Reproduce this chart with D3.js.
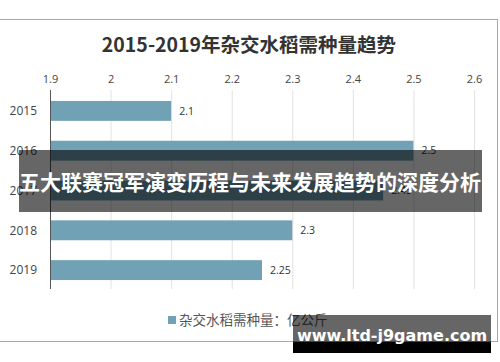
<!DOCTYPE html>
<html>
<head>
<meta charset="utf-8">
<script src="https://cdn.jsdelivr.net/npm/d3@7"></script>
<style>
  body { margin: 0; background: #fff; }
  svg { display: block; font-family: "Noto Sans CJK SC", "Open Sans", sans-serif; }
</style>
</head>
<body>
<div id="chart"></div>
<script>
const years = ["2015", "2016", "2017", "2018", "2019"]
const demand = [2.1, 2.5, 2.45, 2.3, 2.25]
const ticks = [1.9, 2, 2.1, 2.2, 2.3, 2.4, 2.5, 2.6]
const title = "2015-2019年杂交水稻需种量趋势"
const legendLabel = "杂交水稻需种量：亿公斤"
const banner = "五大联赛冠军演变历程与未来发展趋势的深度分析"
const watermark = "www.ltd-j9game.com"

const width = 500, height = 362

const svg = d3.select("#chart").append("svg")
    .attr("width", width)
    .attr("height", height)

// chart frame
svg.append("rect")
    .attr("x", -1).attr("y", 19.5)
    .attr("width", 498.5).attr("height", 322)
    .attr("fill", "#fff")
    .attr("stroke", "#a8a8a8")

svg.append("text")
    .attr("x", 249).attr("y", 52)
    .attr("text-anchor", "middle")
    .attr("font-size", 19.5)
    .attr("font-weight", "bold")
    .attr("fill", "#333")
    .text(title)

const x = d3.scaleLinear()
    .domain([1.9, 2.6])
    .range([50, 474])

const y = d3.scaleBand()
    .domain(years)
    .range([91, 290])
    .paddingInner(0.5)
    .paddingOuter(0.25)

// grid lines
svg.append("g").selectAll("line")
    .data(ticks.slice(1))
    .join("line")
    .attr("x1", d => x(d) + 0.5).attr("x2", d => x(d) + 0.5)
    .attr("y1", 90).attr("y2", 289)
    .attr("stroke", "#e2e2e2")

// top axis labels
const axis = svg.append("g")
    .attr("transform", "translate(0,83)")
    .call(d3.axisTop(x).tickValues(ticks).tickSize(0).tickPadding(0).tickFormat(d3.format("")))
axis.select(".domain").remove()
axis.selectAll("text")
    .attr("font-family", "'Open Sans', sans-serif")
    .attr("font-size", 11)
    .attr("fill", "#444")

// bars
svg.append("g").selectAll("rect")
    .data(demand)
    .join("rect")
    .attr("x", x(1.9))
    .attr("y", (d, i) => y(years[i]))
    .attr("width", d => x(d) - x(1.9))
    .attr("height", y.bandwidth())
    .attr("fill", "#71a1b5")

// value labels
svg.append("g").selectAll("text")
    .data(demand)
    .join("text")
    .attr("x", d => x(d) + 8)
    .attr("y", (d, i) => y(years[i]) + y.bandwidth() / 2)
    .attr("dy", "0.35em")
    .attr("font-family", "'Open Sans', sans-serif")
    .attr("font-size", 10.5)
    .attr("fill", "#333")
    .text(d => d)

// left axis line + year labels
svg.append("line")
    .attr("x1", 50.5).attr("x2", 50.5)
    .attr("y1", 90).attr("y2", 289)
    .attr("stroke", "#555")

svg.append("g").selectAll("text")
    .data(years)
    .join("text")
    .attr("x", 37)
    .attr("y", d => y(d) + y.bandwidth() / 2)
    .attr("dy", "0.35em")
    .attr("text-anchor", "end")
    .attr("font-family", "'Open Sans', sans-serif")
    .attr("font-size", 12)
    .attr("fill", "#444")
    .text(d => d)

// legend
svg.append("rect")
    .attr("x", 168).attr("y", 316)
    .attr("width", 8).attr("height", 8)
    .attr("fill", "#71a1b5")
svg.append("text")
    .attr("x", 179).attr("y", 320)
    .attr("dy", "0.35em")
    .attr("font-size", 13.5)
    .attr("fill", "#555")
    .text(legendLabel)

// overlay banner
svg.append("rect")
    .attr("x", 19).attr("y", 150)
    .attr("width", 463).attr("height", 62)
    .attr("fill", "rgba(0,0,0,0.6)")
svg.append("text")
    .attr("x", 250).attr("y", 183)
    .attr("dy", "0.35em")
    .attr("text-anchor", "middle")
    .attr("font-size", 21)
    .attr("font-weight", "bold")
    .attr("fill", "#fff")
    .text(banner)

// watermark box
svg.append("rect")
    .attr("x", 293).attr("y", 315)
    .attr("width", 198).attr("height", 27)
    .attr("fill", "rgba(0,0,0,0.6)")
svg.append("rect")
    .attr("x", 293).attr("y", 342)
    .attr("width", 198).attr("height", 11)
    .attr("fill", "#000")
svg.append("text")
    .attr("x", 392).attr("y", 341)
    .attr("text-anchor", "middle")
    .attr("font-family", "'DejaVu Sans', sans-serif")
    .attr("font-size", 16)
    .attr("font-weight", "bold")
    .attr("fill", "#fff")
    .text(watermark)
</script>
</body>
</html>
